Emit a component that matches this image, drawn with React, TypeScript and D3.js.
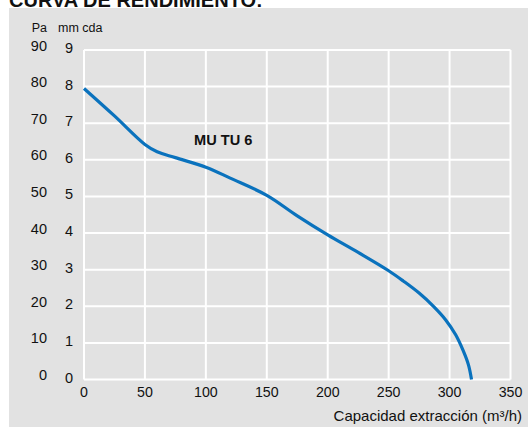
import React from "react";
import * as d3 from "d3";

const title = "CURVA DE RENDIMIENTO:";
const seriesName = "MU TU 6";
const xTitle = "Capacidad extracción (m³/h)";
const paUnit = "Pa";
const mmUnit = "mm cda";

const flow = [0, 25, 50, 60, 75, 100, 120, 150, 175, 200, 225, 250, 262, 275, 287, 297, 305, 311, 315.5, 318];
const pressureMm = [7.95, 7.2, 6.42, 6.22, 6.06, 5.8, 5.5, 5.03, 4.47, 3.95, 3.47, 2.97, 2.69, 2.36, 1.99, 1.62, 1.22, 0.8, 0.4, 0];

const xTicks = [0, 50, 100, 150, 200, 250, 300, 350];
const mmTicks = [0, 1, 2, 3, 4, 5, 6, 7, 8, 9];
const paTicks = [0, 10, 20, 30, 40, 50, 60, 70, 80, 90];

const W = 528;
const H = 427;

export default function App() {
  const x = d3.scaleLinear().domain([0, 350]).range([84, 510.5]);
  const y = d3.scaleLinear().domain([0, 9]).range([379.5, 50]);
  const yPa = d3.scaleLinear().domain([0, 90]).range([379.5, 50]);

  const pts = flow.map((f, i) => [f, pressureMm[i]] as [number, number]);
  const line = d3
    .line<[number, number]>()
    .x((d) => x(d[0]))
    .y((d) => y(d[1]))
    .curve(d3.curveCatmullRom.alpha(0.5));

  const font = "'Liberation Sans', Arial, Helvetica, sans-serif";

  return (
    <svg
      width={W}
      height={H}
      style={{ position: "absolute", left: 0, top: 0, display: "block" }}
      fontFamily={font}
    >
      <rect x={0} y={0} width={W} height={H} fill="#ffffff" />
      <rect x={9} y={8} width={W - 9} height={H - 8} fill="#e2e2e2" />
      <text x={9} y={6.5} fontSize={20} fontWeight="bold" fill="#111">
        {title}
      </text>

      {/* grid */}
      {mmTicks.map((t) => (
        <line
          key={"h" + t}
          x1={x(0)}
          x2={x(350)}
          y1={y(t)}
          y2={y(t)}
          stroke="#ffffff"
          strokeWidth={2}
        />
      ))}
      {xTicks.map((t) => (
        <line
          key={"v" + t}
          x1={x(t)}
          x2={x(t)}
          y1={y(0)}
          y2={y(9)}
          stroke="#ffffff"
          strokeWidth={2}
        />
      ))}

      {/* unit labels */}
      <text x={47} y={32} fontSize={12.5} textAnchor="end" fill="#111">
        {paUnit}
      </text>
      <text x={58} y={32} fontSize={12.5} fill="#111">
        {mmUnit}
      </text>

      {/* y tick labels */}
      {paTicks.map((t) => (
        <text key={"pa" + t} x={47} y={yPa(t) + 0.5} fontSize={14.5} textAnchor="end" fill="#111">
          {t}
        </text>
      ))}
      {mmTicks.map((t) => (
        <text key={"mm" + t} x={69} y={y(t) + 3} fontSize={14.5} textAnchor="middle" fill="#111">
          {t}
        </text>
      ))}

      {/* x tick labels */}
      {xTicks.map((t) => (
        <text key={"x" + t} x={x(t)} y={396.5} fontSize={14.2} textAnchor="middle" fill="#111">
          {t}
        </text>
      ))}
      <text x={522} y={421} fontSize={15} textAnchor="end" fill="#111">
        {xTitle}
      </text>

      {/* curve */}
      <path d={line(pts) || ""} fill="none" stroke="#0a72bd" strokeWidth={3.2} strokeLinejoin="round" strokeLinecap="butt" />
      <text x={194} y={144.5} fontSize={14.6} fontWeight="bold" fill="#111">
        {seriesName}
      </text>
    </svg>
  );
}
